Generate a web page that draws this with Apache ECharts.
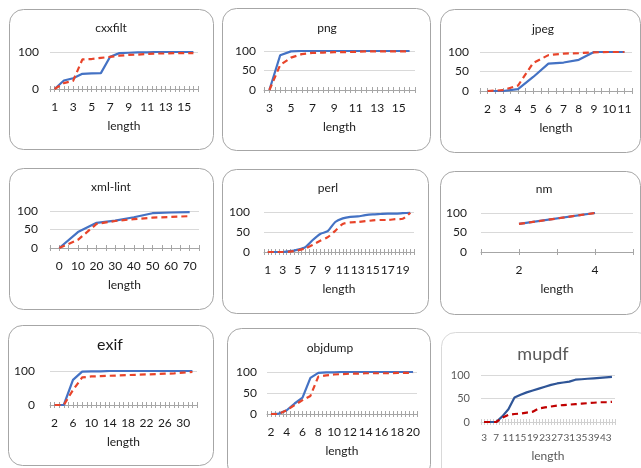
<!DOCTYPE html>
<html><head><meta charset="utf-8">
<script src="https://cdn.jsdelivr.net/npm/echarts@6/dist/echarts.min.js"></script>
<style>html,body{margin:0;padding:0;background:#fff}#c{width:641px;height:468px}</style>
</head><body><div id="c"></div>
<script>
const titles = ['cxxfilt','png','jpeg','xml-lint','perl','nm','exif','objdump','mupdf'];
const xAxisName = 'length';

const cxxfiltLen = [1,2,3,4,5,6,7,8,9,10,11,12,13,14,15,16];
const cxxfiltSolid = [0,23,29,41,42,43,87,97,98,99,99,100,100,100,100,100];
const cxxfiltDashed = [0,16,22,80,81,84,87,90,92,93,95,96,96,97,97,97];

const pngLen = [3,4,5,6,7,8,9,10,11,12,13,14,15,16];
const pngSolid = [0,89,99,100,100,100,100,100,100,100,100,100,100,100];
const pngDashed = [0,64,83,92,95,96,97,97,98,99,99,99,99,99];

const jpegLen = [2,3,4,5,6,7,8,9,10,11];
const jpegSolid = [0,0,5,36,70,73,80,100,100,100];
const jpegDashed = [0,2,14,72,92,96,97,99,100,100];

const xmlLintLen = [0,10,20,30,40,50,60,70];
const xmlLintSolid = [0,43,68,74,83,94,96,97];
const xmlLintDashed = [0,22,65,73,78,82,84,86];

const perlLen = [1,2,3,4,5,6,7,8,9,10,11,12,13,14,15,16,17,18,19,20];
const perlSolid = [0,0,0,2,6,12,30,45,52,75,84,88,89,92,94,95,96,96,97,98];
const perlDashed = [0,0,0,1,4,9,18,28,37,53,70,74,75,77,79,80,80,82,83,98];

const nmLen = [2,4];
const nmSolid = [72,100];
const nmDashed = [72,100];

const exifLen = [2,4,6,8,10,12,14,16,18,20,22,24,26,28,30,32];
const exifSolid = [0,0,74,98,99,99,100,100,100,100,100,100,100,100,100,100];
const exifDashed = [0,0,44,81,84,85,86,87,88,89,90,91,92,93,95,97];

const objdumpLen = [2,3,4,5,6,7,8,9,10,11,12,13,14,15,16,17,18,19,20];
const objdumpSolid = [0,1,9,25,39,86,98,99,99,100,100,100,100,100,100,100,100,100,100];
const objdumpDashed = [0,0,9,21,33,43,89,92,94,95,96,96,97,97,97,97,98,98,98];

const mupdfLen = [3,5,7,9,11,13,15,17,19,21,23,25,27,29,31,33,35,37,39,41,43,45];
const mupdfSolid = [0,0,0,12,27,52,58,63,67,71,75,79,82,84,86,90,91,92,93,94,95,96];
const mupdfDashed = [0,0,0,9,15,17,18,20,22,29,31,33,35,36,37,38,39,40,41,42,42,43];

const panelData = [
  [cxxfiltLen, cxxfiltSolid, cxxfiltDashed],
  [pngLen, pngSolid, pngDashed],
  [jpegLen, jpegSolid, jpegDashed],
  [xmlLintLen, xmlLintSolid, xmlLintDashed],
  [perlLen, perlSolid, perlDashed],
  [nmLen, nmSolid, nmDashed],
  [exifLen, exifSolid, exifDashed],
  [objdumpLen, objdumpSolid, objdumpDashed],
  [mupdfLen, mupdfSolid, mupdfDashed]
];

// layout: grid rect, x range [min,max,interval], label [start,step,end], y interval, y label margin, box, title [x,y,size]
const layout = [
  {g:[50,52,148,37], xr:[0.5,16.5,0.5], lab:[1,2,15], yi:100, ym:11, box:[9,9,204,140], t:[111,28,12]},
  {g:[264,51,151,39], xr:[2.5,16.5,0.5], lab:[3,2,15], yi:50, ym:8, box:[222,8,208,142], t:[327,28,12]},
  {g:[480,52,152,39], xr:[1.5,11.5,0.5], lab:[2,1,11], yi:50, ym:11, box:[440,9,200,143], t:[543,29,12]},
  {g:[50,211,149,37], xr:[-5,75,5], lab:[0,10,70], yi:50, ym:12, box:[9,168,204,141], t:[111,187,12]},
  {g:[264,212,150,40], xr:[0.5,20.5,0.5], lab:[1,2,19], yi:50, ym:14, box:[222,169,206,144], t:[328,188,12], smooth:0.25},
  {g:[481,213,152,39], xr:[1,5,1], lab:[2,2,4], yi:50, ym:14, box:[440,171,200,143], t:[544,189,12]},
  {g:[50,371,147,34], xr:[1,33,1], lab:[2,4,30], yi:100, ym:15, box:[8,325,205,140], t:[110,345,16]},
  {g:[267,372,150,42], xr:[1.5,20.5,0.5], lab:[2,2,20], yi:50, ym:10, box:[227,328,203,150], t:[330,348,12]},
  {g:[481,375,134,47], xr:[2,46,1], lab:[3,4,43], yi:50, ym:11, box:[441,332,210,150], t:[543,354,18], muted:true}
];

const FONT = 'Lato, "Liberation Sans", sans-serif';
const grids = [], xAxes = [], yAxes = [], series = [], graphic = [];

layout.forEach((L, i) => {
  const [xs, solid, dashed] = panelData[i];
  const txt = L.muted ? '#595959' : '#1a1a1a';
  const axisCol = L.muted ? '#d0d0d0' : '#a6a6a6';
  const blue = L.muted ? '#2F5597' : '#4472C4';
  const red = L.muted ? '#C00000' : '#E8442A';
  const lblSize = L.muted ? 10 : 12;
  grids.push({left:L.g[0], top:L.g[1], width:L.g[2], height:L.g[3], containLabel:false});
  const [ls, lst, le] = L.lab;
  const fmt = v => {
    const k = (v - ls) / lst;
    return (v >= ls - 1e-9 && v <= le + 1e-9 && Math.abs(k - Math.round(k)) < 1e-6) ? String(Math.round(v)) : '';
  };
  xAxes.push({
    type:'value', gridIndex:i, position:'bottom', min:L.xr[0], max:L.xr[1], interval:L.xr[2],
    axisLine:{show:true, onZero:false, lineStyle:{color:axisCol, width:1}},
    axisTick:{show:true, inside:false, length:3, lineStyle:{color:axisCol}},
    axisLabel:{show:true, formatter:fmt, margin: L.muted ? 11 : 12, color:txt, fontSize:lblSize, fontFamily:FONT, showMinLabel:true, showMaxLabel:true},
    splitLine:{show:false},
    name:xAxisName, nameLocation:'middle', nameGap: L.muted ? 28 : 31,
    nameTextStyle:{color:txt, fontSize:12, fontFamily:FONT}
  });
  xAxes.push({
    type:'value', gridIndex:i, position:'top', offset:-L.g[3], min:L.xr[0], max:L.xr[1], interval:L.xr[2],
    axisLine:{show:false, onZero:false},
    axisTick:{show:true, inside:false, length:3, lineStyle:{color:axisCol}},
    axisLabel:{show:false}, splitLine:{show:false}
  });
  yAxes.push({
    type:'value', gridIndex:i, min:0, max:100, interval:L.yi,
    axisLine:{show:false}, axisTick:{show:false},
    axisLabel:{color:txt, fontSize: L.muted ? 11 : 12, fontFamily:FONT, margin:L.ym},
    splitLine:{show:true, lineStyle:{color:'#d9d9d9', width:1}}
  });
  series.push({
    type:'line', name:titles[i] + ' solid', xAxisIndex:2*i, yAxisIndex:i,
    data: xs.map((x, k) => [x, solid[k]]), showSymbol:false, symbol:'none', smooth:L.smooth || false,
    lineStyle:{color:blue, width:2.2}, itemStyle:{color:blue}, z:3
  });
  series.push({
    type:'line', name:titles[i] + ' dashed', xAxisIndex:2*i, yAxisIndex:i,
    data: xs.map((x, k) => [x, dashed[k]]), showSymbol:false, symbol:'none', smooth:L.smooth || false,
    lineStyle:{color:red, width:2.2, type:[6,4]}, itemStyle:{color:red}, z:4
  });
  graphic.push({
    type:'rect', silent:true, z:0,
    shape:{x:L.box[0]+0.5, y:L.box[1]+0.5, width:L.box[2], height:L.box[3], r:14},
    style:{fill:'transparent', stroke: L.muted ? '#d9d9d9' : '#a6a6a6', lineWidth:1}
  });
  graphic.push({
    type:'text', silent:true, z:5, x:L.t[0], y:L.t[1],
    style:{text:titles[i], fill:txt, font: L.t[2] + 'px ' + FONT, align:'center', verticalAlign:'middle'}
  });
});

const chart = echarts.init(document.getElementById('c'), null, {renderer:'canvas'});
chart.setOption({
  animation:false,
  backgroundColor:'#ffffff',
  grid:grids, xAxis:xAxes, yAxis:yAxes, series:series, graphic:graphic
});
</script>
</body></html>
